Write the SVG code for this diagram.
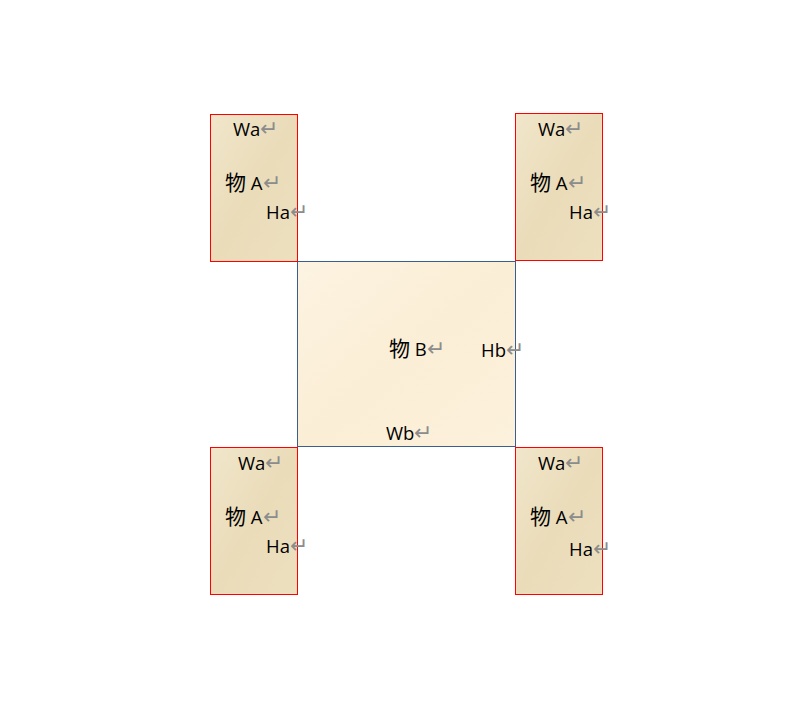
<svg xmlns="http://www.w3.org/2000/svg" width="800" height="726" viewBox="0 0 800 726">
<style>
.a{fill:url(#ga);stroke:#ff0000;stroke-width:1}
.b{fill:url(#gb);stroke:#3a5f8f;stroke-width:1}
text{font-family:"Open Sans","Noto Sans","Noto Sans CJK SC",sans-serif;font-size:18.5px;fill:#000}
.r{fill:#8c8c8c;font-size:22px}
.c{font-size:21px}
</style>
<defs>
<linearGradient id="ga" x1="0" y1="0" x2="1" y2="1">
<stop offset="0" stop-color="#f1e6cb"/><stop offset="0.5" stop-color="#eadcb9"/><stop offset="1" stop-color="#ede0bf"/>
</linearGradient>
<linearGradient id="gb" x1="0" y1="0" x2="1" y2="1">
<stop offset="0" stop-color="#fcf3e1"/><stop offset="0.5" stop-color="#fbeed6"/><stop offset="1" stop-color="#fcf1dc"/>
</linearGradient>
</defs>
<rect width="800" height="726" fill="#fff"/>
<g id="B">
<rect class="b" x="297.5" y="261.5" width="218" height="185"/>
<text x="389" y="356"><tspan class="c">物</tspan> B<tspan class="r">↵</tspan></text>
<text x="481" y="357">Hb<tspan class="r">↵</tspan></text>
<text x="386" y="440">Wb<tspan class="r">↵</tspan></text>
</g>
<g id="A1">
<rect class="a" x="210.5" y="114.5" width="87" height="147"/>
<text x="233" y="136">Wa<tspan class="r">↵</tspan></text>
<text x="225" y="190"><tspan class="c">物</tspan> A<tspan class="r">↵</tspan></text>
<text x="266" y="219">Ha<tspan class="r">↵</tspan></text>
</g>
<g id="A2">
<rect class="a" x="515.5" y="113.5" width="87" height="147"/>
<text x="538" y="136">Wa<tspan class="r">↵</tspan></text>
<text x="530" y="190"><tspan class="c">物</tspan> A<tspan class="r">↵</tspan></text>
<text x="569" y="219">Ha<tspan class="r">↵</tspan></text>
</g>
<g id="A3">
<rect class="a" x="210.5" y="447.5" width="87" height="147"/>
<text x="238" y="470">Wa<tspan class="r">↵</tspan></text>
<text x="225" y="524"><tspan class="c">物</tspan> A<tspan class="r">↵</tspan></text>
<text x="266" y="553">Ha<tspan class="r">↵</tspan></text>
</g>
<g id="A4">
<rect class="a" x="515.5" y="447.5" width="87" height="147"/>
<text x="538" y="470">Wa<tspan class="r">↵</tspan></text>
<text x="530" y="524"><tspan class="c">物</tspan> A<tspan class="r">↵</tspan></text>
<text x="569" y="556">Ha<tspan class="r">↵</tspan></text>
</g>
<g id="connectors"/>
</svg>
